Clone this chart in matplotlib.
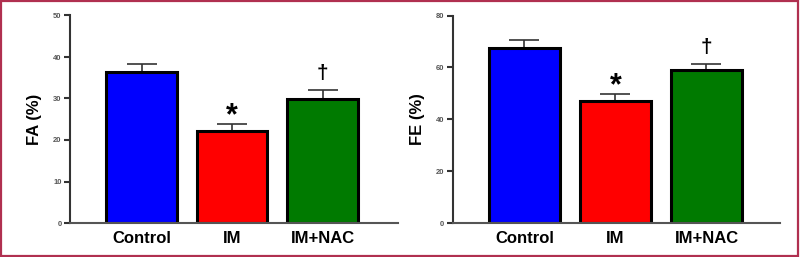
import matplotlib
matplotlib.use("Agg")
import matplotlib.pyplot as plt
from matplotlib.patches import Rectangle

plt.rcParams['font.family'] = ['Liberation Sans', 'DejaVu Sans']

groups = ["Control", "IM", "IM+NAC"]
colors = ["#0000ff", "#ff0000", "#007a00"]

fa_mean = [36.4, 22.2, 29.9]
fa_err = [1.9, 1.7, 2.1]
fa_marks = ["", "*", "\u2020"]

fe_mean = [67.5, 47.0, 58.9]
fe_err = [2.9, 2.8, 2.5]
fe_marks = ["", "*", "\u2020"]

fig = plt.figure(figsize=(8.0, 2.57), dpi=100)

def panel(rect, means, errs, marks, ymax, ystep, ylabel, xlim, width):
    ax = fig.add_axes(rect)
    x = list(range(len(groups)))
    ax.bar(x, means, width=width, color=colors, edgecolor="black", linewidth=2.2, zorder=2)
    ax.errorbar(x, means, yerr=[[0]*len(errs), errs], fmt="none", ecolor="#333333",
                elinewidth=1.2, capsize=11, capthick=1.2, zorder=1)
    for xi, m, e, s in zip(x, means, errs, marks):
        if s == "*":
            ax.annotate(s, (xi, m + e), xytext=(0, -5), textcoords="offset points",
                        ha="center", va="bottom", fontsize=22,
                        fontweight="bold", color="black")
        elif s:
            ax.annotate(s, (xi, m + e), xytext=(0, 5), textcoords="offset points",
                        ha="center", va="bottom", fontsize=15,
                        fontweight="bold", color="black")
    ax.set_ylim(0, ymax)
    ax.set_xlim(*xlim)
    ax.set_yticks([i * ystep for i in range(int(ymax / ystep) + 1)])
    ax.set_xticks(x)
    ax.set_xticklabels(groups, fontsize=12, fontweight="bold")
    ax.tick_params(axis="x", length=0, pad=6)
    ax.tick_params(axis="y", length=4, width=1.5, color="#333333", labelsize=5.5,
                   labelcolor="#555555", pad=2)
    for lab in ax.get_yticklabels():
        lab.set_fontweight("bold")
    ax.spines["top"].set_visible(False)
    ax.spines["right"].set_visible(False)
    ax.spines["left"].set_linewidth(1.5)
    ax.spines["left"].set_color("#333333")
    ax.spines["bottom"].set_linewidth(1.5)
    ax.spines["bottom"].set_color("#555555")
    ax.set_ylabel(ylabel, fontsize=12, fontweight="bold", labelpad=8)
    return ax

W, H = 800.0, 257.0
bottom = (H - 223) / H
height = (223 - 15.5) / H

panel([70 / W, bottom, (398 - 70) / W, height], fa_mean, fa_err, fa_marks, 50, 10,
      "FA (%)", (-0.79, 2.834), 0.775)
panel([452.7 / W, bottom, (780 - 452.7) / W, height], fe_mean, fe_err, fe_marks, 80, 20,
      "FE (%)", (-0.789, 2.808), 0.78)

fig.patches.append(Rectangle((0.001, 0.003), 0.997, 0.993, transform=fig.transFigure,
                             fill=False, edgecolor="#b03050", linewidth=1.6))

fig.savefig("out.png", dpi=100)
